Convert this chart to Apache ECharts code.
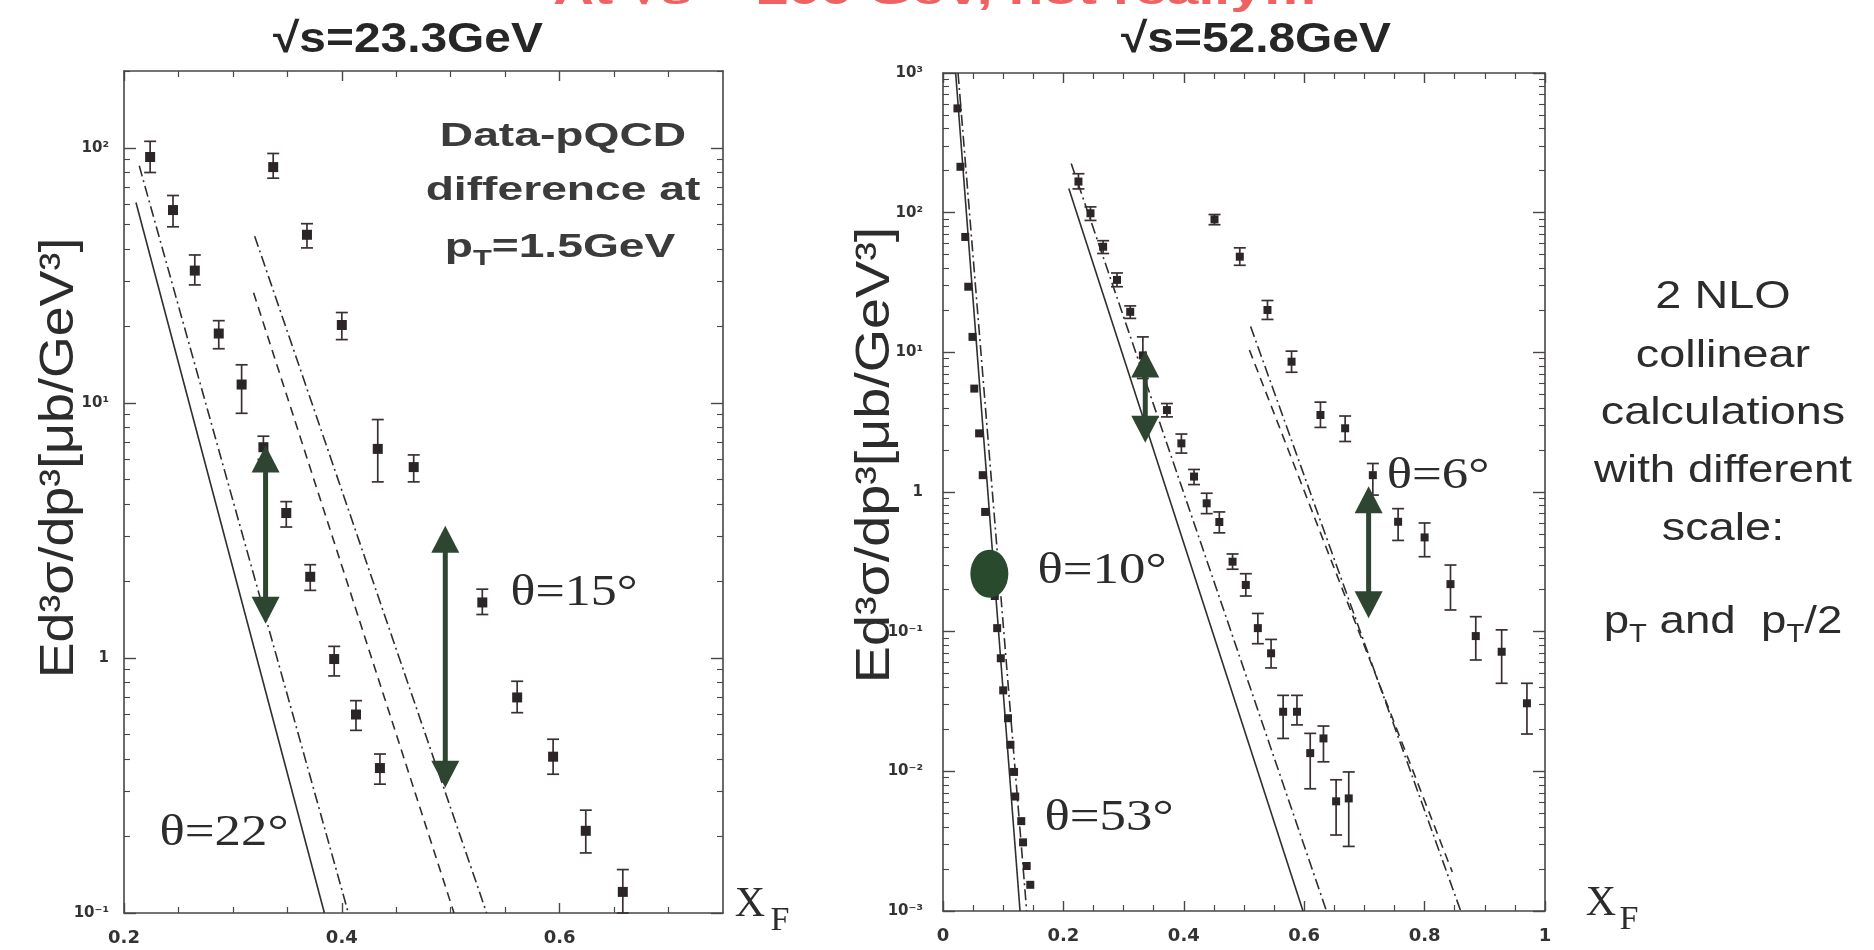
<!DOCTYPE html>
<html><head><meta charset="utf-8">
<script src="https://cdn.jsdelivr.net/npm/echarts@6.0.0/dist/echarts.min.js"></script>
<style>html,body{margin:0;padding:0;background:#fff;}#c{width:1874px;height:950px;}</style>
</head><body><div id="c"></div>
<script>
// ---------- Left panel: sqrt(s)=23.3 GeV ----------
const L22_x  = [0.224, 0.245, 0.265, 0.287, 0.308, 0.328, 0.349, 0.371, 0.393, 0.413, 0.435];
const L22_y  = [92, 57, 33, 18.7, 11.8, 6.7, 3.7, 2.08, 0.99, 0.60, 0.37];
const L22_hi = [106, 65, 38, 21, 14.1, 7.4, 4.1, 2.32, 1.11, 0.68, 0.42];
const L22_lo = [80, 49, 29, 16.3, 9.1, 6.0, 3.26, 1.84, 0.85, 0.52, 0.32];

const L15_x  = [0.337, 0.368, 0.400, 0.433, 0.466, 0.529, 0.561, 0.594, 0.624, 0.658];
const L15_y  = [84, 45.6, 20.2, 6.6, 5.6, 1.65, 0.70, 0.41, 0.21, 0.121];
const L15_hi = [95, 50.4, 22.6, 8.6, 6.25, 1.86, 0.81, 0.48, 0.253, 0.148];
const L15_lo = [76, 40.5, 17.7, 4.9, 4.9, 1.48, 0.61, 0.35, 0.172, 0.1];

const L22_nlo_a = [[0.211, 61], [0.384, 0.1]];     // solid
const L22_nlo_b = [[0.214, 85], [0.406, 0.1]];     // dash-dot
const L15_nlo_a = [[0.319, 27], [0.503, 0.1]];     // dashed
const L15_nlo_b = [[0.320, 45], [0.533, 0.1]];     // dash-dot
const L_arrows  = [[0.330, 6.8, 1.36], [0.495, 3.3, 0.31]];

// ---------- Right panel: sqrt(s)=52.8 GeV ----------
const R53_x = [0.024, 0.029, 0.037, 0.042, 0.049, 0.052, 0.060, 0.066, 0.070, 0.086, 0.090, 0.096, 0.100, 0.108, 0.112, 0.118, 0.120, 0.130, 0.133, 0.139, 0.145];
const R53_y = [558, 213, 67, 29.5, 12.9, 5.5, 2.63, 1.32, 0.72, 0.18, 0.106, 0.0645, 0.038, 0.024, 0.0155, 0.0099, 0.0066, 0.0044, 0.0031, 0.0021, 0.00154];

const R10_x  = [0.225, 0.245, 0.266, 0.289, 0.311, 0.332, 0.372, 0.396, 0.417, 0.438, 0.459, 0.481, 0.503, 0.523, 0.545, 0.565, 0.588, 0.610, 0.632, 0.653, 0.674];
const R10_y  = [167, 99, 57, 33, 19.5, 9.5, 3.86, 2.23, 1.29, 0.83, 0.61, 0.317, 0.216, 0.106, 0.070, 0.0267, 0.0267, 0.0135, 0.0172, 0.0061, 0.0064];
const R10_hi = [190, 110, 63, 37, 21.5, 12.9, 4.3, 2.6, 1.45, 0.98, 0.72, 0.36, 0.26, 0.135, 0.088, 0.035, 0.035, 0.0187, 0.0211, 0.0087, 0.0099];
const R10_lo = [148, 88, 51, 29.5, 17.5, 6.5, 3.45, 1.9, 1.13, 0.70, 0.51, 0.28, 0.18, 0.082, 0.055, 0.0172, 0.0215, 0.0075, 0.0117, 0.0035, 0.0029];

const R6_x  = [0.451, 0.493, 0.539, 0.579, 0.627, 0.668, 0.714, 0.756, 0.800, 0.843, 0.885, 0.928, 0.970];
const R6_y  = [89.5, 48.4, 20.1, 8.57, 3.56, 2.86, 1.32, 0.612, 0.473, 0.219, 0.093, 0.0718, 0.0307];
const R6_hi = [97, 56, 23.5, 10.2, 4.4, 3.5, 1.6, 0.76, 0.60, 0.30, 0.128, 0.103, 0.0427];
const R6_lo = [82, 42, 17.2, 7.2, 2.9, 2.3, 0.95, 0.45, 0.344, 0.143, 0.0627, 0.0427, 0.0185];

const R53_nlo_a = [[0.021, 1000], [0.128, 0.001]];  // solid
const R53_nlo_b = [[0.025, 1000], [0.139, 0.001]];  // dash-dot
const R10_nlo_a = [[0.209, 149], [0.598, 0.001]];   // solid
const R10_nlo_b = [[0.213, 225], [0.637, 0.001]];   // dash-dot
const R6_nlo_a  = [[0.509, 10.4], [0.846, 0.0019]]; // dashed
const R6_nlo_b  = [[0.511, 15.3], [0.860, 0.001]];  // dash-dot
const R_arrows  = [[0.336, 10.3, 2.25], [0.707, 1.1, 0.125]];
const R_blob    = [[0.077, 0.26]];

// ---------- axis ticks / labels ----------
const xMajL = [0.2, 0.4, 0.6];
const xMinL = [0.25, 0.3, 0.35, 0.45, 0.5, 0.55, 0.65, 0.7];
const xMajR = [0, 0.2, 0.4, 0.6, 0.8, 1];
const xMinR = [0.05, 0.1, 0.15, 0.25, 0.3, 0.35, 0.45, 0.5, 0.55, 0.65, 0.7, 0.75, 0.85, 0.9, 0.95];
const yMajL = [0.1, 1, 10, 100];
const yLabL = ['10\u207B\u00B9', '1', '10\u00B9', '10\u00B2'];
const yMajR = [0.001, 0.01, 0.1, 1, 10, 100, 1000];
const yLabR = ['10\u207B\u00B3', '10\u207B\u00B2', '10\u207B\u00B9', '1', '10\u00B9', '10\u00B2', '10\u00B3'];
function logMinors(lo, hi) { const r = []; for (let d = lo; d < hi; d *= 10) for (let k = 2; k <= 9; k++) { const v = +(k * d).toPrecision(6); if (v <= hi) r.push(v); } return r; }
const yMinL = logMinors(0.1, 200);
const yMinR = logMinors(0.001, 1000);

const INK = '#2b2428', AX = '#4a4546';
function xAx(gi, pos, min, max, maj, minr, labels) {
  return [{
    type: 'value', gridIndex: gi, position: pos, min, max,
    axisLine: { show: true, onZero: false, lineStyle: { color: AX, width: 1.6 } },
    axisTick: { show: true, inside: true, length: 10, customValues: maj, lineStyle: { color: AX, width: 1.4 } },
    axisLabel: { show: labels, customValues: maj, margin: 16, color: '#333', fontSize: 18, fontWeight: 'bold', fontFamily: 'DejaVu Sans' },
    splitLine: { show: false }
  }, {
    type: 'value', gridIndex: gi, position: pos, min, max,
    axisLine: { show: false, onZero: false },
    axisTick: { show: true, inside: true, length: 6, customValues: minr, lineStyle: { color: AX, width: 1.2 } },
    axisLabel: { show: false }, splitLine: { show: false }
  }];
}
function yAx(gi, pos, min, max, maj, labs, minr, labels, margin) {
  return [{
    type: 'log', logBase: 10, gridIndex: gi, position: pos, min, max,
    axisLine: { show: true, onZero: false, lineStyle: { color: AX, width: 1.6 } },
    axisTick: { show: true, inside: true, length: 12, customValues: maj, lineStyle: { color: AX, width: 1.4 } },
    axisLabel: { show: labels, customValues: maj, margin: margin || 20, color: '#333', fontSize: 15, fontWeight: 'bold', fontFamily: 'DejaVu Sans',
      formatter: v => { const i = maj.findIndex(t => Math.abs(Math.log10(t) - Math.log10(v)) < 1e-6); return i >= 0 ? labs[i] : ''; } },
    splitLine: { show: false }
  }, {
    type: 'log', logBase: 10, gridIndex: gi, position: pos, min, max,
    axisLine: { show: false, onZero: false },
    axisTick: { show: true, inside: true, length: 6, customValues: minr, lineStyle: { color: AX, width: 1.1 } },
    axisLabel: { show: false }, splitLine: { show: false }
  }];
}

const xAxis = [].concat(
  xAx(0, 'bottom', 0.2, 0.75, xMajL, xMinL, true), xAx(0, 'top', 0.2, 0.75, xMajL, xMinL, false),
  xAx(1, 'bottom', 0, 1, xMajR, xMinR, true), xAx(1, 'top', 0, 1, xMajR, xMinR, false));
const yAxis = [].concat(
  yAx(0, 'left', 0.1, 200, yMajL, yLabL, yMinL, true, 15), yAx(0, 'right', 0.1, 200, yMajL, yLabL, yMinL, false),
  yAx(1, 'left', 0.001, 1000, yMajR, yLabR, yMinR, true, 20), yAx(1, 'right', 0.001, 1000, yMajR, yLabR, yMinR, false));

const DASHED = [9, 6], DASHDOT = [11, 4, 2, 4];
function pts(xs, ys) { return xs.map((x, i) => [x, ys[i]]); }
function scat(ax, xs, ys, size) {
  return { type: 'scatter', xAxisIndex: ax, yAxisIndex: ax, data: pts(xs, ys), symbol: 'rect', symbolSize: size || 9,
    itemStyle: { color: INK, opacity: 1 }, z: 4, silent: true };
}
function errs(ax, xs, lo, hi) {
  return { type: 'custom', xAxisIndex: ax, yAxisIndex: ax, silent: true, z: 3,
    data: xs.map((x, i) => [x, lo[i], hi[i]]), encode: { x: 0, y: [1, 2] },
    renderItem: (p, api) => {
      const a = api.coord([api.value(0), api.value(2)]);
      const b = api.coord([api.value(0), api.value(1)]);
      const w = 6, st = { stroke: '#3a3034', lineWidth: 1.7 };
      return { type: 'group', children: [
        { type: 'line', shape: { x1: a[0], y1: a[1], x2: b[0], y2: b[1] }, style: st },
        { type: 'line', shape: { x1: a[0] - w, y1: a[1], x2: a[0] + w, y2: a[1] }, style: st },
        { type: 'line', shape: { x1: b[0] - w, y1: b[1], x2: b[0] + w, y2: b[1] }, style: st }
      ] };
    } };
}
function curve(ax, data, type) {
  return { type: 'line', xAxisIndex: ax, yAxisIndex: ax, data, showSymbol: false, symbol: 'none', silent: true, z: 2,
    lineStyle: { color: '#2f2f2f', width: 1.6, type } };
}
function arrows(ax, data) {
  return { type: 'custom', xAxisIndex: ax, yAxisIndex: ax, silent: true, z: 6,
    data, encode: { x: 0, y: [1, 2] },
    renderItem: (p, api) => {
      const t = api.coord([api.value(0), api.value(1)]);
      const b = api.coord([api.value(0), api.value(2)]);
      const hw = 14, hh = 27, col = '#2e4631';
      return { type: 'group', children: [
        { type: 'line', shape: { x1: t[0], y1: t[1] + hh - 2, x2: b[0], y2: b[1] - hh + 2 }, style: { stroke: col, lineWidth: 5 } },
        { type: 'polygon', shape: { points: [[t[0], t[1]], [t[0] - hw, t[1] + hh], [t[0] + hw, t[1] + hh]] }, style: { fill: col } },
        { type: 'polygon', shape: { points: [[b[0], b[1]], [b[0] - hw, b[1] - hh], [b[0] + hw, b[1] - hh]] }, style: { fill: col } }
      ] };
    } };
}

const series = [
  curve(0, L22_nlo_a, 'solid'), curve(0, L22_nlo_b, DASHDOT), curve(0, L15_nlo_a, DASHED), curve(0, L15_nlo_b, DASHDOT),
  errs(0, L22_x, L22_lo, L22_hi), scat(0, L22_x, L22_y, 10),
  errs(0, L15_x, L15_lo, L15_hi), scat(0, L15_x, L15_y, 10),
  arrows(0, L_arrows),
  curve(4, R53_nlo_a, 'solid'), curve(4, R53_nlo_b, DASHDOT),
  curve(4, R10_nlo_a, 'solid'), curve(4, R10_nlo_b, DASHDOT),
  curve(4, R6_nlo_a, DASHED), curve(4, R6_nlo_b, DASHDOT),
  scat(4, R53_x, R53_y, 8),
  errs(4, R10_x, R10_lo, R10_hi), scat(4, R10_x, R10_y, 8),
  errs(4, R6_x, R6_lo, R6_hi), scat(4, R6_x, R6_y, 8),
  arrows(4, R_arrows),
  { type: 'scatter', xAxisIndex: 4, yAxisIndex: 4, data: R_blob, symbol: 'circle', symbolSize: [38, 48], itemStyle: { color: '#2a4a2d', opacity: 1 }, z: 7, silent: true }
];

function T(x, y, text, o) {
  o = o || {};
  return { type: 'text', x, y, scaleX: o.sx || 1, rotation: o.rot || 0, z: 20, silent: true,
    style: Object.assign({ text, fill: o.fill || '#2c2c2c', fontSize: o.fs || 36, fontFamily: o.ff || 'Liberation Sans',
      fontWeight: o.fw || 'normal', align: 'center', verticalAlign: 'middle', textAlign: 'center', textVerticalAlign: 'middle' }, o.style || {}) };
}
const serif = 'Liberation Serif';
const richPT = (fs, sub, fw) => ({ a: { fontSize: fs, fontWeight: fw, fontFamily: 'Liberation Sans', lineHeight: fs * 1.3 },
  s: { fontSize: sub, fontWeight: fw, fontFamily: 'Liberation Sans', verticalAlign: 'bottom', lineHeight: fs * 1.3 } });

const graphics = [
  T(936, -6, 'At \u221As = 200 GeV, not really\u2026', { fs: 38, fw: 'bold', fill: '#f06262', sx: 1.5 }),
  T(408, 40, '\u221As=23.3GeV', { fs: 42, fw: 'bold', sx: 1.14, fill: '#262626' }),
  T(1256, 40, '\u221As=52.8GeV', { fs: 42, fw: 'bold', sx: 1.14, fill: '#262626' }),
  T(563, 137, 'Data-pQCD', { fs: 33, fw: 'bold', sx: 1.4, fill: '#3b3b3b' }),
  T(563, 191, 'difference at', { fs: 33, fw: 'bold', sx: 1.4, fill: '#3b3b3b' }),
  T(560, 248, '{a|p}{s|T}{a|=1.5GeV}', { fs: 33, fw: 'bold', sx: 1.4, fill: '#3b3b3b', style: { rich: richPT(33, 22, 'bold') } }),
  T(60, 458, 'Ed\u00B3\u03C3/dp\u00B3[\u03BCb/GeV\u00B3]', { fs: 48, sx: 1.12, rot: Math.PI / 2, fill: '#2c2c2c' }),
  T(876, 455, 'Ed\u00B3\u03C3/dp\u00B3[\u03BCb/GeV\u00B3]', { fs: 48, sx: 1.16, rot: Math.PI / 2, fill: '#2c2c2c' }),
  T(224, 833, '\u03B8=22\u00B0', { fs: 44, ff: serif, sx: 1.2 }),
  T(574, 593, '\u03B8=15\u00B0', { fs: 44, ff: serif, sx: 1.18 }),
  T(1102, 571, '\u03B8=10\u00B0', { fs: 44, ff: serif, sx: 1.2 }),
  T(1109, 818, '\u03B8=53\u00B0', { fs: 44, ff: serif, sx: 1.2 }),
  T(1438, 476, '\u03B8=6\u00B0', { fs: 44, ff: serif, sx: 1.2 }),
  T(750, 905, 'X', { fs: 42, ff: serif }), T(780, 921, 'F', { fs: 34, ff: serif }),
  T(1601, 904, 'X', { fs: 42, ff: serif }), T(1629, 920, 'F', { fs: 34, ff: serif }),
  T(1723, 297, '2 NLO', { fs: 39, sx: 1.2 }),
  T(1723, 356, 'collinear', { fs: 39, sx: 1.2 }),
  T(1723, 413, 'calculations', { fs: 39, sx: 1.2 }),
  T(1723, 471, 'with different', { fs: 39, sx: 1.17 }),
  T(1723, 529, 'scale:', { fs: 39, sx: 1.2 }),
  T(1723, 622, '{a|p}{s|T}{a| and  p}{s|T}{a|/2}', { fs: 39, sx: 1.17, style: { rich: richPT(39, 25, 'normal') } })
];

const chart = echarts.init(document.getElementById('c'), null, { renderer: 'canvas' });
chart.setOption({
  animation: false,
  backgroundColor: '#ffffff',
  grid: [{ left: 124, top: 71, width: 599, height: 842 }, { left: 943, top: 73, width: 602, height: 838 }],
  xAxis, yAxis, series,
  graphic: { elements: graphics }
});
</script></body></html>
